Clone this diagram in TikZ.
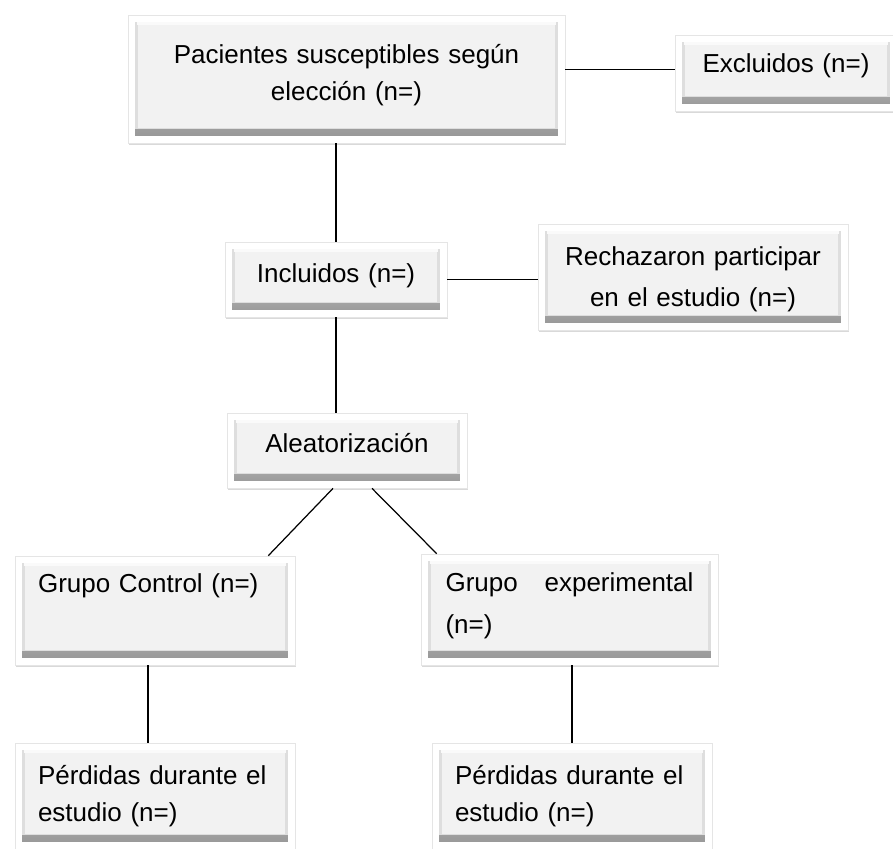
\documentclass[tikz,border=0pt]{standalone}
\usepackage{fontspec}
\setmainfont{Liberation Sans}
\usetikzlibrary{calc,positioning,shadows}

\tikzset{
    bevel/.style={rectangle, fill=white, draw=black!10, inner sep=0pt,
        font=\fontsize{14.8}{21}\selectfont, text depth=9pt,
        drop shadow={shadow xshift=0.6pt, shadow yshift=-1.4pt, opacity=0.3},
        path picture={
            \fill[top color=black!10, bottom color=black!42]
                ([shift={(4pt,4pt)}]path picture bounding box.south west)
                rectangle ([shift={(-4pt,-4pt)}]path picture bounding box.north east);
            \fill[black!13]
                ([shift={(4pt,8pt)}]path picture bounding box.south west)
                rectangle ([shift={(-4pt,-4pt)}]path picture bounding box.north east);
            \fill[black!2]
                ([shift={(5pt,-5.6pt)}]path picture bounding box.north west)
                rectangle ([shift={(-5pt,-4pt)}]path picture bounding box.north east);
            \fill[black!5]
                ([shift={(5.6pt,8.5pt)}]path picture bounding box.south west)
                rectangle ([shift={(-5.6pt,-5.6pt)}]path picture bounding box.north east);
        }},
    link/.style={draw, line width=0.7pt}
}

\begin{document}
\begin{tikzpicture}[x=0.02cm, y=-0.02cm]
    \useasboundingbox (0,0) rectangle (893,849);
    % Top row
    \node[bevel, minimum width=8.74cm, minimum height=2.56cm, text width=8cm, align=center,
        text depth=28pt]
        (pac) at (346.5,79) {Pacientes susceptibles según\\elección (n=)};
    \node[bevel, minimum width=4.44cm, minimum height=1.52cm, text width=4cm, align=center,
        text depth=11.8pt]
        (excl) at (786,73) {Excluidos (n=)};
    % Middle
    \node[bevel, minimum width=4.44cm, minimum height=1.5cm, text width=4cm, align=center,
        text depth=7.5pt]
        (incl) at (336,279.5) {Incluidos (n=)};
    \node[bevel, minimum width=6.2cm, minimum height=2.12cm, text width=5.8cm, align=center,
        font=\fontsize{14.8}{23.5}\selectfont, text depth=24pt]
        (rech) at (693,277) {Rechazaron participar\\en el estudio (n=)};
    \node[bevel, minimum width=4.8cm, minimum height=1.5cm, text width=4.4cm, align=center]
        (alea) at (347,450.5) {Aleatorización};
    % Groups
    \node[bevel, minimum width=5.6cm, minimum height=2.18cm, text width=4.68cm, align=left,
        text depth=31pt]
        (gc) at (155,610.5) {Grupo Control (n=)\\\mbox{}};
    \node[bevel, minimum width=5.94cm, minimum height=2.22cm, text width=4.96cm, align=left,
        font=\fontsize{14.8}{24}\selectfont, text depth=31pt]
        (ge) at (569.5,609.5) {Grupo \hfill experimental\\(n=)};
    % Losses
    \node[bevel, minimum width=5.6cm, minimum height=2.12cm, text width=4.68cm, align=left,
        text depth=24pt]
        (pl) at (155,796) {Pérdidas durante el\\estudio (n=)};
    \node[bevel, minimum width=5.6cm, minimum height=2.12cm, text width=4.68cm, align=left,
        text depth=24pt]
        (pr) at (572,796) {Pérdidas durante el\\estudio (n=)};
    % Lines
    \path[link] ([yshift=2pt]excl.west -| pac.east) -- ([yshift=2pt]excl.west);
    \path[link] (incl.north |- pac.south) -- (incl.north);
    \path[link] (incl.east) -- (incl.east -| rech.west);
    \path[link] (incl.south) -- (incl.south |- alea.north);
    \path[link] ($(alea.south)+(-14,0)$) -- ($(gc.north east)+(-27,0)$);
    \path[link] ($(alea.south)+(25,0)$) -- ($(ge.north west)+(16,0)$);
    \path[link] ($(gc.south)+(-7,0)$) -- ($(pl.north)+(-7,0)$);
    \path[link] (pr.north |- ge.south) -- (pr.north);
\end{tikzpicture}
\end{document}
